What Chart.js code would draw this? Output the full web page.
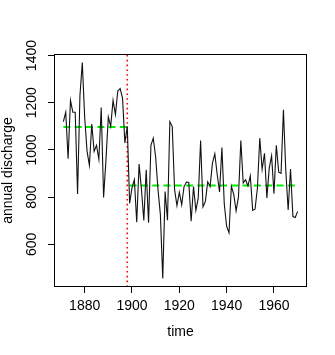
<!DOCTYPE html>
<html>
<head>
<meta charset="utf-8">
<script src="https://cdn.jsdelivr.net/npm/chart.js@4"></script>
<style>
  html, body { margin: 0; padding: 0; background: #fff; }
  canvas { display: block; }
</style>
</head>
<body>
<canvas id="myChart" width="335" height="355"></canvas>
<script>
// Nile annual discharge, 1871-1970
let years = [];
for (let y = 1871; y <= 1970; y++) years.push(y);
let discharge = [
	1120, 1160, 963, 1210, 1160, 1160, 813, 1230, 1370, 1140,
	995, 935, 1110, 994, 1020, 960, 1180, 799, 958, 1140,
	1100, 1210, 1150, 1250, 1260, 1220, 1030, 1100, 774, 840,
	874, 694, 940, 833, 701, 916, 692, 1020, 1050, 969,
	831, 726, 456, 824, 702, 1120, 1100, 832, 764, 821,
	768, 845, 864, 862, 698, 845, 744, 796, 1040, 759,
	781, 865, 845, 944, 984, 897, 822, 1010, 771, 676,
	649, 846, 812, 742, 801, 1040, 860, 874, 848, 890,
	744, 749, 838, 1050, 918, 986, 797, 923, 975, 815,
	1020, 906, 901, 1170, 912, 746, 919, 718, 714, 740
];
let changepoint = 1898;
let segStart = [1871, 1899];
let segEnd = [1898, 1970];
let segMean = [1097.75, 849.97];
let xTicks = [1880, 1900, 1920, 1940, 1960];
let yTicks = [600, 800, 1000, 1200, 1400];
let xLim = [1867.04, 1973.96];
let yLim = [419.4, 1406.6];

const font = { family: "'Liberation Sans', Arial, sans-serif", size: 14 };

const boxPlugin = {
	id: "box",
	afterDraw(chart) {
		const a = chart.chartArea;
		const ctx = chart.ctx;
		ctx.save();
		ctx.strokeStyle = "#000";
		ctx.lineWidth = 1;
		ctx.strokeRect(Math.round(a.left) + 0.5, Math.round(a.top) + 0.5,
			Math.round(a.right - a.left) - 1, Math.round(a.bottom - a.top) - 1);
		ctx.restore();
	}
};

function makeGraph() {
	let series = years.map((y, i) => ({ x: y, y: discharge[i] }));
	let means = segMean.map((m, i) => ({
		type: "line",
		data: [{ x: segStart[i], y: m }, { x: segEnd[i], y: m }],
		borderColor: "#00ee00",
		borderWidth: 2,
		borderDash: [7, 4.3],
		pointRadius: 0,
		fill: false
	}));
	new Chart("myChart", {
		type: "line",
		data: {
			datasets: [{
				data: series,
				borderColor: "#111",
				borderWidth: 1.1,
				lineTension: 0,
				pointRadius: 0,
				fill: false
			}, {
				data: [{ x: changepoint, y: yLim[0] }, { x: changepoint, y: yLim[1] }],
				borderColor: "#ff0000",
				borderWidth: 1.6,
				borderDash: [1.6, 3.2],
				pointRadius: 0,
				fill: false
			}].concat(means)
		},
		options: {
			responsive: false,
			animation: false,
			layout: { padding: { left: 0, top: 54, right: 28, bottom: 0 } },
			plugins: { legend: { display: false }, tooltip: { enabled: false } },
			scales: {
				x: {
					type: "linear",
					min: xLim[0],
					max: xLim[1],
					afterBuildTicks: s => { s.ticks = xTicks.map(v => ({ value: v })); },
					afterFit: s => { s.height = 68; },
					grid: { drawOnChartArea: false, color: "#000", tickLength: 6 },
					border: { display: false },
					ticks: { color: "#000", font: font, padding: 5, maxRotation: 0, autoSkip: false,
						callback: v => String(v) },
					title: { display: true, text: "time", color: "#000", font: font,
						padding: { top: 0, bottom: 14 } }
				},
				y: {
					min: yLim[0],
					max: yLim[1],
					afterBuildTicks: s => { s.ticks = yTicks.map(v => ({ value: v })); },
					afterFit: s => { s.width = 54; },
					grid: { drawOnChartArea: false, color: "#000", tickLength: 6 },
					border: { display: false },
					ticks: { color: "#000", font: font, padding: 0, minRotation: 90, maxRotation: 90,
						crossAlign: "center", autoSkip: false, callback: v => String(v) },
					title: { display: true, text: "annual discharge", color: "#000", font: font,
						padding: { top: 0, bottom: 0 } }
				}
			}
		},
		plugins: [boxPlugin]
	});
}

makeGraph();
</script>
</body>
</html>
